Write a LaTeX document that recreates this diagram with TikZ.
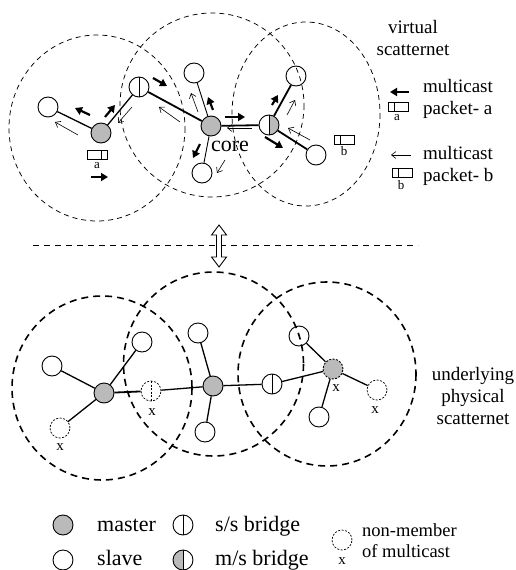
\documentclass[tikz,border=0pt]{standalone}
\usepackage{fontspec}
\setmainfont{Liberation Serif}
\usetikzlibrary{arrows.meta}
\begin{document}
\begin{tikzpicture}[x=1pt,y=-1pt,
  nd/.style={circle,draw,minimum size=20pt,inner sep=0pt,line width=0.9pt},
  slave/.style={nd},
  master/.style={nd,fill=black!27},
  ssbridge/.style={nd,path picture={\draw[line width=0.9pt] (path picture bounding box.north) -- (path picture bounding box.south);}},
  msbridgeR/.style={nd,path picture={\fill[black!27] (path picture bounding box.north) rectangle (path picture bounding box.south east);
      \draw[line width=0.9pt] (path picture bounding box.north) -- (path picture bounding box.south);}},
  msbridgeL/.style={nd,path picture={\fill[black!27] (path picture bounding box.north west) rectangle (path picture bounding box.south);
      \draw[line width=0.9pt] (path picture bounding box.north) -- (path picture bounding box.south);}},
  nonmember/.style={nd,dashed,dash pattern=on 2pt off 1.5pt,line width=0.7pt},
  nmbridge/.style={nonmember,path picture={\draw[line width=0.7pt,dash pattern=on 2pt off 1.5pt] (path picture bounding box.north) -- (path picture bounding box.south);}},
  packetL/.style={draw,line width=1pt,minimum width=20pt,minimum height=9pt,inner sep=0pt,
      path picture={\draw[line width=1pt] ([xshift=6pt]path picture bounding box.north west) -- ([xshift=6pt]path picture bounding box.south west);}},
  packetR/.style={draw,line width=1pt,minimum width=20pt,minimum height=9pt,inner sep=0pt,
      path picture={\draw[line width=1pt] ([xshift=-6pt]path picture bounding box.north east) -- ([xshift=-6pt]path picture bounding box.south east);}},
  vzone/.style={dashed,dash pattern=on 5pt off 4pt,line width=0.75pt},
  pzone/.style={dashed,dash pattern=on 7pt off 5pt,line width=1.6pt},
  thinedge/.style={line width=0.9pt},
  midedge/.style={line width=1.3pt},
  thickedge/.style={line width=1.8pt},
  flowa/.style={line width=2.2pt,-{Triangle[length=7pt,width=8pt]}},
  flowb/.style={line width=0.6pt,-{Straight Barb[length=4.5pt,width=7pt]}},
  big/.style={font=\fontsize{19}{22}\selectfont,inner sep=0pt},
  legend/.style={font=\fontsize{22}{24}\selectfont,inner sep=0pt},
  small/.style={font=\fontsize{13}{14}\selectfont,inner sep=0pt},
  xmark/.style={font=\fontsize{15}{16}\selectfont,inner sep=0pt}
]
\useasboundingbox (0,0) rectangle (515,570);

% ---------- virtual scatternet ----------
\draw[vzone] (97,128) ellipse [x radius=88, y radius=93];
\draw[vzone] (212,105) ellipse [x radius=92, y radius=92];
\draw[vzone] (306,114) ellipse [x radius=74, y radius=92];

\node[slave]     (tS1) at (48,107) {};
\node[master]    (tM1) at (101,133) {};
\node[ssbridge]  (tB1) at (139,87) {};
\node[master]    (tC)  at (211,126) {};
\node[slave]     (tS2) at (194,73) {};
\node[slave]     (tS3) at (202,173) {};
\node[msbridgeR] (tB2) at (269,125) {};
\node[slave]     (tS4) at (296,76) {};
\node[slave]     (tS5) at (316,155) {};

\draw[midedge]   (tS1) -- (tM1);
\draw[midedge]   (tM1) -- (tB1);
\draw[thickedge] (tB1) -- (tC);
\draw[thinedge]  (tC) -- (tS2);
\draw[thinedge]  (tC) -- (tS3);
\draw[thickedge] (tC) -- (tB2);
\draw[thickedge] (tB2) -- (tS4);
\draw[thickedge] (tB2) -- (tS5);

\node[legend] (core) at (230,146) {core};

% packet a flow
\draw[flowa] (90,115) -- (75,108);
\draw[flowa] (105,117) -- (115,105);
\draw[flowa] (153,78) -- (167,86);
\draw[flowa] (213,110) -- (208,97);
\draw[flowa] (200,144) -- (193,158);
\draw[flowa] (225,117) -- (245,117);
\draw[flowa] (272,105) -- (278,95);
\draw[flowa] (265,137) -- (283,148);
\draw[flowa] (91,177) -- (108,177);

% packet b flow
\draw[flowb] (78,135) -- (55,122);
\draw[flowb] (132,107) -- (118,123);
\draw[flowb] (180,122) -- (159,107);
\draw[flowb] (198,112) -- (191,93);
\draw[flowb] (225,160) -- (217,173);
\draw[flowb] (252,128) -- (227,128);
\draw[flowb] (287,115) -- (295,100);
\draw[flowb] (310,140) -- (288,128);

\node[packetR] (pa) at (97,155) {};
\node[small] (pal) at (97,166) {a};
\node[packetL] (pb) at (344,139.5) {};
\node[small] (pbl) at (344,151) {b};

\node[big,align=center] (vlabel) at (413,38) {virtual\\scatternet};

% packet legend
\draw[flowa] (409,92) -- (390,92);
\node[packetL] (lpa) at (398,106.5) {};
\node[small] (lpal) at (397,118) {a};
\node[big,anchor=west,align=left] (lpat) at (423,99) {multicast\\packet- a};
\draw[flowb] (411,155) -- (391,155);
\node[packetL] (lpb) at (402,172.5) {};
\node[small] (lpbl) at (401,185) {b};
\node[big,anchor=west,align=left] (lpbt) at (423,166) {multicast\\packet- b};

% ---------- layer separator ----------
\draw[line width=0.9pt,dash pattern=on 6pt off 5pt] (33,245) -- (418,245);
\draw[line width=0.9pt,fill=white]
  (219,225) -- (226.5,235) -- (221.5,235) -- (221.5,257) -- (226.5,257) -- (219,267)
  -- (211.5,257) -- (216.5,257) -- (216.5,235) -- (211.5,235) -- cycle;

% ---------- physical scatternet ----------
\draw[pzone] (102,388) ellipse [x radius=90, y radius=92];
\draw[pzone] (213.5,364) ellipse [x radius=90, y radius=92];
\draw[pzone] (327,374) ellipse [x radius=89, y radius=92];

\node[slave]     (bS1) at (52,366) {};
\node[master]    (bM1) at (104,393) {};
\node[slave]     (bS2) at (142,342) {};
\node[nonmember] (bN1) at (60,428) {};
\node[nmbridge]  (bN2) at (151,391) {};
\node[master]    (bM2) at (213,386) {};
\node[slave]     (bS3) at (198,333) {};
\node[slave]     (bS4) at (205,432) {};
\node[ssbridge]  (bB)  at (272,384) {};
\node[master,dashed,dash pattern=on 2pt off 1.5pt] (bM3) at (333,369) {};
\node[slave]     (bS5) at (299,336) {};
\node[slave]     (bS6) at (319,417) {};
\node[nonmember] (bN3) at (377,390) {};

\draw[midedge]   (bS1) -- (bM1);
\draw[midedge]   (bM1) -- (bS2);
\draw[midedge]   (bM1) -- (bN1);
\draw[thickedge] (bM1) -- (bN2);
\draw[midedge]   (bN2) -- (bM2);
\draw[midedge]   (bM2) -- (bS3);
\draw[midedge]   (bM2) -- (bS4);
\draw[midedge]   (bM2) -- (bB);
\draw[midedge]   (bB) -- (bM3);
\draw[midedge]   (bM3) -- (bS5);
\draw[midedge]   (bM3) -- (bS6);
\draw[midedge]   (bM3) -- (bN3);

\node[xmark] (x1) at (60,447) {x};
\node[xmark] (x2) at (152,412) {x};
\node[xmark] (x3) at (336,388) {x};
\node[xmark] (x4) at (375,410) {x};

\node[big,align=center] (plabel) at (473,396) {underlying\\physical\\scatternet};

% ---------- legend ----------
\node[master]    (kM)  at (63,525) {};
\node[legend,anchor=base west] (kMt) at (97,531) {master};
\node[slave]     (kS)  at (63,560) {};
\node[legend,anchor=base west] (kSt) at (97,565) {slave};
\node[ssbridge]  (kB1) at (183,525) {};
\node[legend,anchor=base west] (kB1t) at (215,531) {s/s bridge};
\node[msbridgeL] (kB2) at (183,560) {};
\node[legend,anchor=base west] (kB2t) at (215,565) {m/s bridge};
\node[nonmember] (kN)  at (342,540) {};
\node[xmark] (kNx) at (342,561) {x};
\node[big,anchor=west,align=left,font=\fontsize{18.5}{21}\selectfont] (kNt) at (362,541) {non-member\\of multicast};
\end{tikzpicture}
\end{document}
